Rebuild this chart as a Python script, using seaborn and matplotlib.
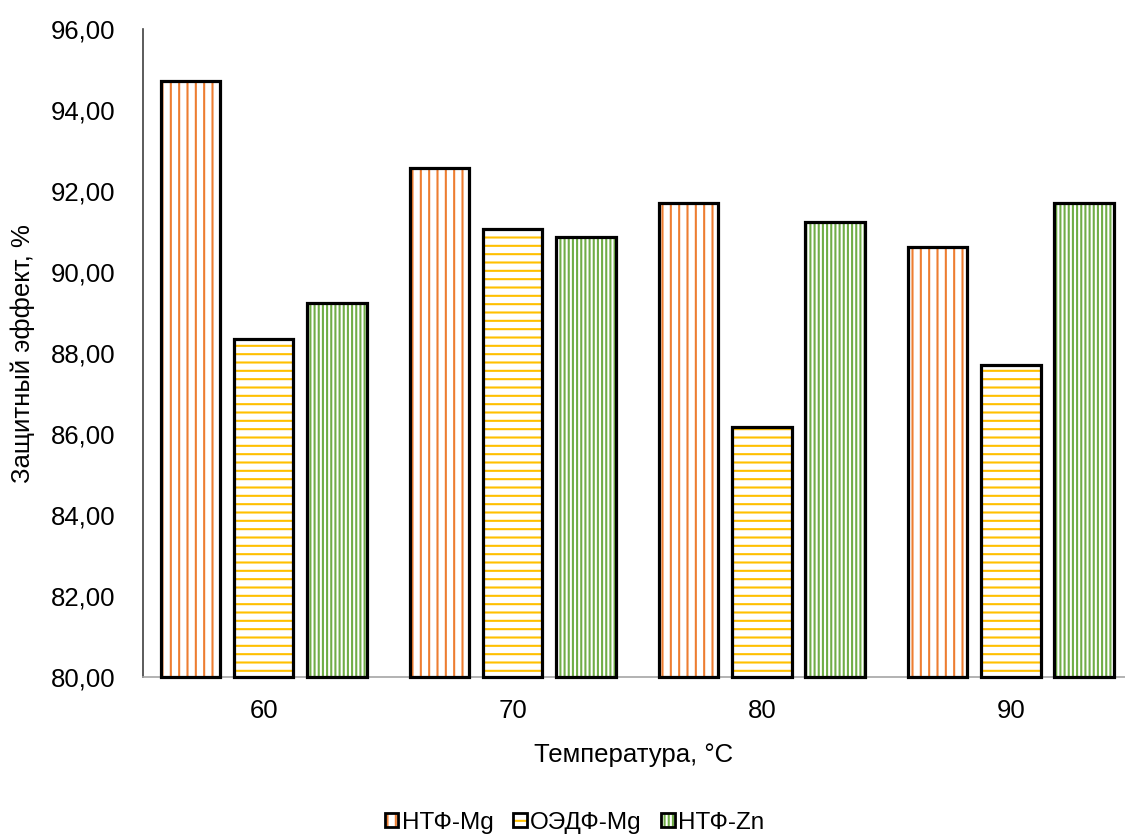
import matplotlib
matplotlib.use("Agg")
import matplotlib.pyplot as plt
from matplotlib.patches import Rectangle
from matplotlib.legend_handler import HandlerTuple
from matplotlib.ticker import FuncFormatter
import seaborn as sns
import pandas as pd

# Protective effect of inhibitor compositions vs. temperature
temperatures = ["60", "70", "80", "90"]
series_names = ["НТФ-Mg", "ОЭДФ-Mg", "НТФ-Zn"]
ntf_mg = [94.73, 92.58, 91.70, 90.62]
oedf_mg = [88.35, 91.06, 86.17, 87.71]
ntf_zn = [89.23, 90.88, 91.25, 91.72]

series_colors = ["#ED7D31", "#FFC000", "#70AD47"]
series_hatches = ["||", "--", "||||"]

rows = []
for name, vals in zip(series_names, [ntf_mg, oedf_mg, ntf_zn]):
    for t, v in zip(temperatures, vals):
        rows.append({"temp": t, "value": v, "series": name})
df = pd.DataFrame(rows)

sns.set_theme(style="white")
plt.rcParams["font.family"] = ["Liberation Sans", "DejaVu Sans"]
plt.rcParams["hatch.linewidth"] = 1.5
plt.rcParams["text.color"] = "black"
plt.rcParams["axes.labelcolor"] = "black"

fig = plt.figure(figsize=(11.25, 8.36), dpi=100)
ax = fig.add_axes([0.127, 0.19, 0.873, 0.775])

sns.barplot(data=df, x="temp", y="value", hue="series", order=temperatures,
            hue_order=series_names, palette=["white"] * 3, width=0.88, gap=0.19,
            legend=False, ax=ax, linewidth=0, errorbar=None)

ymin, ymax = 80, 96
ax.set_ylim(ymin, ymax)
ax.set_xlim(-0.486, 3.458)

for container, col, hatch in zip(ax.containers, series_colors, series_hatches):
    for bar in container:
        bar.set_facecolor("white")
        bar.set_edgecolor(col)
        bar.set_linewidth(0)
        bar.set_hatch(hatch)
        x0 = bar.get_x()
        w = bar.get_width()
        h = bar.get_height()
        ax.add_patch(Rectangle((x0, ymin), w, h - ymin, fill=False,
                               edgecolor="black", linewidth=2.3,
                               clip_on=False, zorder=3))

ax.set_yticks(range(80, 97, 2))
ax.yaxis.set_major_formatter(FuncFormatter(lambda v, p: f"{v:.2f}".replace(".", ",")))
ax.tick_params(axis="both", length=0, labelsize=18.5, colors="black")
ax.tick_params(axis="y", pad=20)
ax.tick_params(axis="x", pad=16)

ax.set_xlabel("Температура, °C", fontsize=18.5, labelpad=14, color="black")
ax.set_ylabel("Защитный эффект, %", fontsize=18.5, labelpad=11, color="black")

for s in ["top", "right"]:
    ax.spines[s].set_visible(False)
ax.spines["left"].set_color("#404040")
ax.spines["left"].set_linewidth(1.2)
ax.spines["bottom"].set_color("#A6A6A6")
ax.spines["bottom"].set_linewidth(1.2)
ax.grid(False)

handles = []
for col, hatch in zip(series_colors, series_hatches):
    hp = Rectangle((0, 0), 1, 1, facecolor="white", edgecolor=col, hatch=hatch, linewidth=0)
    op = Rectangle((0, 0), 1, 1, fill=False, edgecolor="black", linewidth=2)
    handles.append((hp, op))

fig.legend(handles, series_names, loc="center", bbox_to_anchor=(0.511, 0.016),
           ncol=3, frameon=False, fontsize=17.5, handler_map={tuple: HandlerTuple(ndivide=1)},
           handlelength=0.55, handleheight=0.55, handletextpad=0.15, columnspacing=0.8)

fig.savefig("out.png", dpi=100)
